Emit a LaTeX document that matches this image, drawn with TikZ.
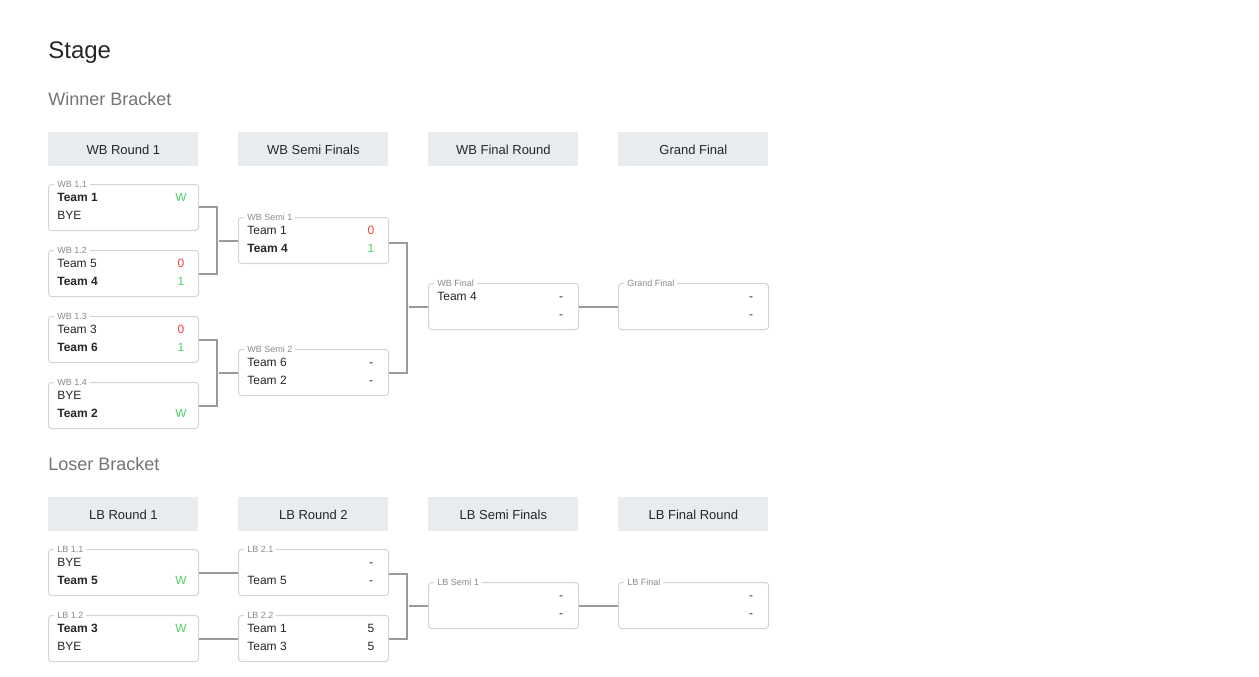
\documentclass[tikz,border=0pt]{standalone}
\usepackage{fontspec}
\setmainfont{Liberation Sans}
\usetikzlibrary{positioning}
\definecolor{headfill}{HTML}{E9ECEF}
\definecolor{boxline}{HTML}{D4D4D4}
\definecolor{linkline}{HTML}{9A9A9A}
\definecolor{tagtext}{HTML}{8A8A8A}
\definecolor{lose}{HTML}{F03E3E}
\definecolor{win}{HTML}{51CF66}
\tikzset{
  every picture/.style={line width=0.75pt},
  head/.style={fill=headfill,draw=none,minimum width=150,minimum height=34,inner sep=0,font=\fontsize{13}{15}\selectfont,text=black!85},
  match/.style={draw=boxline,line width=1pt,rounded corners=3pt,minimum width=150,minimum height=46,inner sep=0},
  tag/.style={fill=white,text=tagtext,inner xsep=3,inner ysep=0,font=\fontsize{9}{10}\selectfont,anchor=west},
  team/.style={anchor=base west,inner sep=0,font=\fontsize{12}{14}\selectfont,text=black!85},
  score/.style={anchor=base,inner sep=0,font=\fontsize{12}{14}\selectfont,text=black!85},
  link/.style={draw=linkline,line width=2pt},
}
% name, x, y (top left), tag, team 1, score 1, team 2, score 2
\newcommand{\mtch}[8]{%
  \node[match,anchor=north west] (#1) at (#2,#3) {};
  \node[tag] (#1t) at ([xshift=6]#1.north west) {#4};
  \node[team] (#1a) at ([xshift=9,yshift=-17]#1.north west) {#5};
  \node[score] (#1s) at ([xshift=-18,yshift=-17]#1.north east) {#6};
  \node[team] (#1b) at ([xshift=9,yshift=-35]#1.north west) {#7};
  \node[score] (#1r) at ([xshift=-18,yshift=-35]#1.north east) {#8};
}
\newcommand{\lo}[1]{\textcolor{lose}{#1}}
\newcommand{\wn}[1]{\textcolor{win}{#1}}

\begin{document}
\begin{tikzpicture}[x=1pt,y=-1pt]
  \useasboundingbox (0,0) rectangle (1259,677);

  % titles
  \node[anchor=west,inner sep=0,font=\fontsize{24}{28}\selectfont,text=black!85] (stage) at (48,53) {Stage};
  \node[anchor=west,inner sep=0,font=\fontsize{18}{21}\selectfont,text=black!55] (wbt) at (48,99) {Winner Bracket};
  \node[anchor=west,inner sep=0,font=\fontsize{18}{21}\selectfont,text=black!55] (lbt) at (48,464) {Loser Bracket};

  % column heads
  \node[head,anchor=north west] (h1) at (48,132) {WB Round 1};
  \node[head,anchor=north west] (h2) at (238,132) {WB Semi Finals};
  \node[head,anchor=north west] (h3) at (428,132) {WB Final Round};
  \node[head,anchor=north west] (h4) at (618,132) {Grand Final};
  \node[head,anchor=north west] (l1) at (48,497) {LB Round 1};
  \node[head,anchor=north west] (l2) at (238,497) {LB Round 2};
  \node[head,anchor=north west] (l3) at (428,497) {LB Semi Finals};
  \node[head,anchor=north west] (l4) at (618,497) {LB Final Round};

  % winner bracket
  \mtch{wa}{48}{184}{WB 1.1}{\textbf{Team 1}}{\wn{W}}{BYE}{}
  \mtch{wb}{48}{250}{WB 1.2}{Team 5}{\lo{0}}{\textbf{Team 4}}{\wn{1}}
  \mtch{wc}{48}{316}{WB 1.3}{Team 3}{\lo{0}}{\textbf{Team 6}}{\wn{1}}
  \mtch{wd}{48}{382}{WB 1.4}{BYE}{}{\textbf{Team 2}}{\wn{W}}
  \mtch{ws}{238}{217}{WB Semi 1}{Team 1}{\lo{0}}{\textbf{Team 4}}{\wn{1}}
  \mtch{wt}{238}{349}{WB Semi 2}{Team 6}{-}{Team 2}{-}
  \mtch{wf}{428}{283}{WB Final}{Team 4}{-}{}{-}
  \mtch{gf}{618}{283}{Grand Final}{}{-}{}{-}

  % loser bracket
  \mtch{la}{48}{549}{LB 1.1}{BYE}{}{\textbf{Team 5}}{\wn{W}}
  \mtch{lb}{48}{615}{LB 1.2}{\textbf{Team 3}}{\wn{W}}{BYE}{}
  \mtch{lc}{238}{549}{LB 2.1}{}{-}{Team 5}{-}
  \mtch{ld}{238}{615}{LB 2.2}{Team 1}{5}{Team 3}{5}
  \mtch{ls}{428}{582}{LB Semi 1}{}{-}{}{-}
  \mtch{lf}{618}{582}{LB Final}{}{-}{}{-}

  % links
  \draw[link] ([yshift=1]wa.east) -| ([xshift=-21,yshift=-14]ws.west);
  \draw[link] (wb.east) -| ([xshift=-21,yshift=14]ws.west);
  \draw[link] ([xshift=-19]ws.west) -- (ws.west);
  \draw[link] (wc.east) -| ([xshift=-21,yshift=-14]wt.west);
  \draw[link] (wd.east) -| ([xshift=-21,yshift=14]wt.west);
  \draw[link] ([xshift=-19]wt.west) -- (wt.west);
  \draw[link] ([yshift=-2]ws.east) -| ([xshift=-21,yshift=-12]wf.west);
  \draw[link] (wt.east) -| ([xshift=-21,yshift=14]wf.west);
  \draw[link] ([xshift=-19]wf.west) -- (wf.west);
  \draw[link] (wf.east) -- (gf.west);
  \draw[link] (la.east) -- (lc.west);
  \draw[link] (lb.east) -- (ld.west);
  \draw[link] ([yshift=-1]lc.east) -| ([xshift=-21,yshift=-10]ls.west);
  \draw[link] (ld.east) -| ([xshift=-21,yshift=12]ls.west);
  \draw[link] ([xshift=-19]ls.west) -- (ls.west);
  \draw[link] (ls.east) -- (lf.west);
\end{tikzpicture}
\end{document}
